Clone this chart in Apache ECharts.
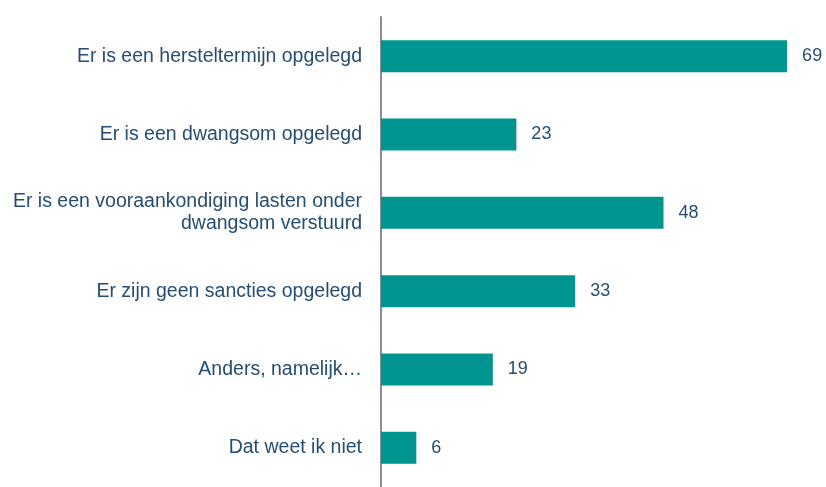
<!DOCTYPE html>
<html>
<head>
<meta charset="utf-8">
<script src="https://cdn.jsdelivr.net/npm/echarts@6/dist/echarts.min.js"></script>
<style>
  html, body { margin: 0; padding: 0; background: #ffffff; }
  #chart { width: 826px; height: 487px; }
</style>
</head>
<body>
<div id="chart"></div>
<script>
// Answer categories (top to bottom) and percentage of respondents
const categories = [
  'Er is een hersteltermijn opgelegd',
  'Er is een dwangsom opgelegd',
  'Er is een vooraankondiging lasten onder\ndwangsom verstuurd',
  'Er zijn geen sancties opgelegd',
  'Anders, namelijk…',
  'Dat weet ik niet'
];
const values = [69, 23, 48, 33, 19, 6];

const textColor = '#264d73';
const chart = echarts.init(document.getElementById('chart'), null, { renderer: 'canvas' });

chart.setOption({
  animation: false,
  grid: { left: 381, top: 17, width: 412, height: 476, containLabel: false },
  xAxis: {
    type: 'value',
    min: 0,
    max: 70,
    show: false
  },
  yAxis: {
    type: 'category',
    inverse: true,
    data: categories,
    axisLine: { show: true, lineStyle: { color: '#8c8c8c', width: 2 } },
    axisTick: { show: false },
    axisLabel: {
      margin: 19,
      color: textColor,
      fontFamily: 'Liberation Sans, Arial, sans-serif',
      fontSize: 19.5,
      lineHeight: 22,
      align: 'right'
    }
  },
  series: [{
    type: 'bar',
    data: values,
    barWidth: 32,
    itemStyle: { color: '#009591' },
    label: {
      show: true,
      position: 'right',
      distance: 15,
      color: textColor,
      fontFamily: 'Liberation Sans, Arial, sans-serif',
      fontSize: 18
    }
  }]
});
</script>
</body>
</html>
